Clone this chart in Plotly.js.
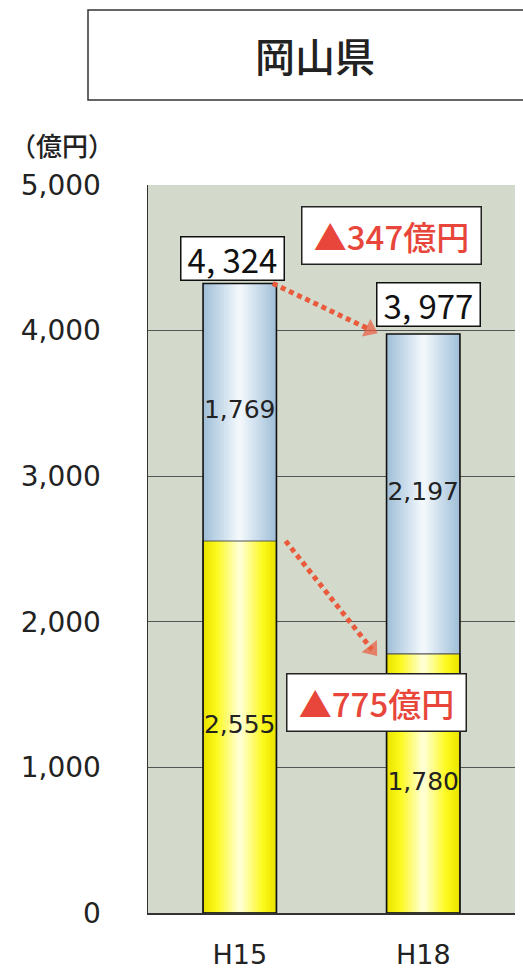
<!DOCTYPE html>
<html><head><meta charset="utf-8">
<script src="https://cdn.plot.ly/plotly-3.0.1.min.js"></script>
<style>html,body{margin:0;padding:0;background:#fff}</style>
</head><body><div id="chart" style="width:523px;height:974px"></div>
<script>
// ---- data ----
const categories = ['H15', 'H18'];
const lowerValues = [2555, 1780];   // yellow segment
const upperValues = [1769, 2197];   // light-blue segment
const totals = [4324, 3977];
const totalLabels = ['4, 324', '3, 977'];
const changeLabels = ['▲347億円', '▲775億円'];
const yTickVals = [0, 1000, 2000, 3000, 4000, 5000];
const yTickText = ['0', '1,000', '2,000', '3,000', '4,000', '5,000'];
const unitLabel = '（億円）';
const titleText = '岡山県';

// ---- styling ----
const xIdx = categories.map((_, i) => i);
const BW = 0.4;
function mix(a, b, t) {
  const pa = [1,3,5].map(k => parseInt(a.substr(k,2),16));
  const pb = [1,3,5].map(k => parseInt(b.substr(k,2),16));
  return 'rgb(' + pa.map((v,j) => Math.round(v + (pb[j]-v)*t)).join(',') + ')';
}
const NL = 14;
function layers(edge, mid, center) {
  const out = [];
  for (let k = 0; k < NL; k++) {
    const f = 1 - k / NL;
    const t = k / (NL - 1);
    const c = t < 0.35 ? mix(edge, mid, t / 0.35) : mix(mid, center, (t - 0.35) / 0.65);
    out.push([f, c]);
  }
  return out;
}
const yellowLayers = layers('#ebe400', '#fcf91a', '#ffffd2');
const blueLayers   = layers('#a2c0d8', '#bdd4e6', '#f2f7fb');

const traces = [];
yellowLayers.forEach(([f, c]) => traces.push({
  type: 'bar', x: xIdx, y: lowerValues, base: xIdx.map(() => 0), width: BW * f,
  marker: {color: c, line: {width: 0}}, hoverinfo: 'skip', showlegend: false
}));
blueLayers.forEach(([f, c]) => traces.push({
  type: 'bar', x: xIdx, y: upperValues, base: lowerValues, width: BW * f,
  marker: {color: c, line: {width: 0}}, hoverinfo: 'skip', showlegend: false
}));
// outlines
traces.push({type: 'bar', x: xIdx, y: lowerValues, base: xIdx.map(() => 0), width: BW,
  marker: {color: 'rgba(0,0,0,0)', line: {color: '#555', width: 1.2}}, hoverinfo: 'skip', showlegend: false});
traces.push({type: 'bar', x: xIdx, y: totals, base: xIdx.map(() => 0), width: BW,
  marker: {color: 'rgba(0,0,0,0)', line: {color: '#111', width: 1.6}}, hoverinfo: 'skip', showlegend: false});

// segment value labels
const segFont = {family: 'DejaVu Sans, sans-serif', size: 25, color: '#222'};
traces.push({type: 'scatter', mode: 'text', x: xIdx, y: lowerValues.map(v => v / 2),
  text: lowerValues.map(v => v.toLocaleString('en-US')), textposition: 'middle center',
  textfont: segFont, cliponaxis: false, hoverinfo: 'skip', showlegend: false});
traces.push({type: 'scatter', mode: 'text', x: xIdx, y: lowerValues.map((v, i) => v + upperValues[i] / 2),
  text: upperValues.map(v => v.toLocaleString('en-US')), textposition: 'middle center',
  textfont: segFont, cliponaxis: false, hoverinfo: 'skip', showlegend: false});

// dotted arrows (total change, lower segment change)
const arrowColor = '#ea5a3c';
function arrow(x0, y0, x1, y1) {
  return {type: 'scatter', mode: 'lines+markers', x: [x0, x1], y: [y0, y1],
    line: {color: arrowColor, width: 5, dash: '5px,4px'},
    marker: {symbol: 'triangle-up', size: [0, 17], color: arrowColor, angleref: 'previous', line: {width: 0}},
    hoverinfo: 'skip', showlegend: false};
}
traces.push(arrow(0.18, totals[0], 0.71, totals[1] + 30));
traces.push(arrow(0.25, lowerValues[0], 0.72, lowerValues[1] + 30));

const boxFont = {family: 'Liberation Sans Narrow, Noto Sans CJK JP, sans-serif', size: 33, color: '#111'};
const redFont = {family: 'Noto Sans CJK JP, sans-serif', size: 33, color: '#e8463a', weight: 500};
const totalShift = [2, 7];
const totalXOff = [-0.04, 0.03];

const annotations = [];
totals.forEach((t, i) => annotations.push({
  x: xIdx[i] + totalXOff[i], y: t, xref: 'x', yref: 'y', yanchor: 'bottom', yshift: totalShift[i],
  text: totalLabels[i], showarrow: false, font: boxFont,
  bgcolor: '#fff', bordercolor: '#111', borderwidth: 1.5, width: 100, height: 40
}));
const changePos = [[0.827, 4653], [0.745, 1443]];
changeLabels.forEach((c, i) => annotations.push({
  x: changePos[i][0], y: changePos[i][1], xref: 'x', yref: 'y',
  text: c, showarrow: false, font: redFont,
  bgcolor: '#fff', bordercolor: '#222', borderwidth: 1.5, width: 176, height: 54
}));
annotations.push({x: (8 - 148) / 367, xref: 'paper', y: (913 - 145) / 728, yref: 'paper', text: unitLabel, showarrow: false,
  xanchor: 'left', yanchor: 'middle', font: {family: 'Noto Sans CJK JP, sans-serif', size: 26, color: '#222', weight: 500}});

const layout = {
  width: 523, height: 974,
  margin: {l: 148, r: 8, t: 185, b: 61},
  paper_bgcolor: '#ffffff', plot_bgcolor: '#d3dacb',
  barmode: 'overlay',
  showlegend: false,
  title: {text: titleText, x: 315 / 523, xanchor: 'center', y: 1 - 58 / 974, yanchor: 'middle', yref: 'container',
    font: {family: 'Noto Sans CJK JP, sans-serif', size: 40, color: '#222', weight: 500}},
  xaxis: {range: [-0.5, 1.5], tickvals: xIdx, ticktext: categories, showgrid: false, zeroline: false,
    showline: true, linecolor: '#333', linewidth: 1.5, ticks: '', ticklabelstandoff: 17,
    tickfont: {family: 'DejaVu Sans, sans-serif', size: 27, color: '#222'}, fixedrange: true},
  yaxis: {range: [0, 5000], tickvals: yTickVals, ticktext: yTickText, showgrid: true, gridcolor: '#555', gridwidth: 1.2,
    zeroline: false, showline: true, linecolor: '#333', linewidth: 1.5, ticks: '', ticklabelstandoff: 40,
    tickfont: {family: 'DejaVu Sans, sans-serif', size: 28, color: '#222'}, fixedrange: true},
  annotations: annotations,
  shapes: [{type: 'rect', xref: 'paper', yref: 'paper', x0: (88 - 148) / 367, x1: (540 - 148) / 367,
    y0: (913 - 100) / 728, y1: (913 - 10) / 728, line: {color: '#333', width: 1.5}, fillcolor: 'rgba(0,0,0,0)'}]
};

Plotly.newPlot('chart', traces, layout, {displayModeBar: false, staticPlot: true});
</script></body></html>
